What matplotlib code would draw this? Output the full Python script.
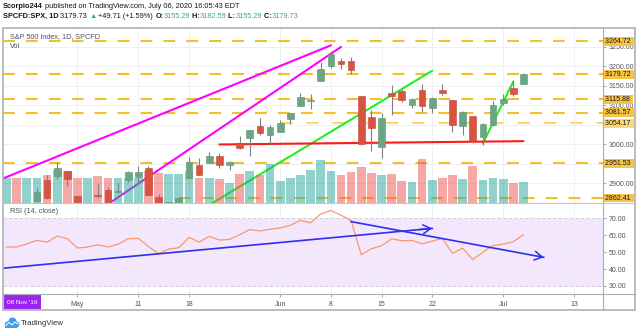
import matplotlib
matplotlib.use("Agg")
import numpy as np
import matplotlib.pyplot as plt
import matplotlib.transforms as mtransforms
from matplotlib.patches import Rectangle, Circle

plt.rcParams["font.family"] = ["Liberation Sans", "DejaVu Sans"]
plt.rcParams["lines.scale_dashes"] = False

# ---- daily S&P 500 CFD bars --------------------------------------------
dates = ["Apr 22", "Apr 23", "Apr 24", "Apr 27", "Apr 28", "Apr 29", "Apr 30",
         "May 1", "May 4", "May 5", "May 6", "May 7", "May 8",
         "May 11", "May 12", "May 13", "May 14", "May 15",
         "May 18", "May 19", "May 20", "May 21", "May 22",
         "May 26", "May 27", "May 28", "May 29",
         "Jun 1", "Jun 2", "Jun 3", "Jun 4", "Jun 5",
         "Jun 8", "Jun 9", "Jun 10", "Jun 11", "Jun 12",
         "Jun 15", "Jun 16", "Jun 17", "Jun 18", "Jun 19",
         "Jun 22", "Jun 23", "Jun 24", "Jun 25", "Jun 26",
         "Jun 29", "Jun 30", "Jul 1", "Jul 2", "Jul 6"]

opens = [2787.89, 2810.42, 2812.64, 2854.65, 2909.96, 2918.46, 2930.91,
         2869.09, 2815.01, 2868.88, 2883.14, 2878.26, 2908.83,
         2915.46, 2939.50, 2865.86, 2794.54, 2829.95,
         2913.86, 2948.59, 2953.63, 2969.95, 2948.05,
         3004.08, 3015.65, 3046.61, 3025.17,
         3031.00, 3064.78, 3098.90, 3111.56, 3163.84,
         3199.92, 3213.32, 3213.42, 3123.53, 3071.04,
         2993.76, 3131.00, 3136.13, 3101.64, 3140.29,
         3094.42, 3138.70, 3114.40, 3046.60, 3073.20,
         3018.59, 3050.20, 3105.92, 3143.64, 3155.29]
highs = [2815.10, 2844.90, 2842.71, 2887.72, 2921.15, 2954.86, 2930.91,
         2869.09, 2844.24, 2898.23, 2891.11, 2901.92, 2932.16,
         2944.25, 2945.82, 2874.14, 2852.80, 2865.01,
         2968.09, 2964.21, 2980.29, 2978.50, 2956.76,
         3021.72, 3036.25, 3068.67, 3049.17,
         3062.18, 3081.07, 3130.94, 3128.91, 3211.72,
         3233.13, 3222.71, 3223.27, 3123.53, 3088.42,
         3079.76, 3153.45, 3141.16, 3120.00, 3155.53,
         3120.92, 3154.90, 3115.01, 3086.25, 3073.73,
         3053.89, 3111.51, 3128.44, 3165.81, 3182.59]
lows = [2775.95, 2794.26, 2791.76, 2852.89, 2860.71, 2912.16, 2892.47,
        2821.61, 2797.85, 2863.55, 2847.65, 2876.48, 2902.88,
        2903.44, 2869.59, 2793.15, 2766.64, 2816.78,
        2913.86, 2922.35, 2953.63, 2938.57, 2933.59,
        2988.17, 2969.75, 3023.40, 2998.61,
        3031.00, 3051.64, 3098.90, 3090.41, 3163.84,
        3196.00, 3193.11, 3181.49, 2999.49, 2984.47,
        2965.66, 3076.06, 3108.03, 3093.51, 3083.11,
        3079.39, 3127.12, 3032.13, 3024.01, 3004.63,
        2999.74, 3047.83, 3101.17, 3124.52, 3155.29]
closes = [2799.31, 2797.80, 2836.74, 2878.48, 2863.39, 2939.51, 2912.43,
          2830.71, 2842.74, 2868.44, 2848.42, 2881.19, 2929.80,
          2930.32, 2870.12, 2820.00, 2852.50, 2863.70,
          2953.91, 2922.94, 2971.61, 2948.51, 2955.45,
          2991.77, 3036.13, 3029.73, 3044.31,
          3055.73, 3080.82, 3122.87, 3112.35, 3193.93,
          3232.39, 3207.18, 3190.14, 3002.10, 3041.31,
          3066.59, 3124.74, 3113.49, 3115.34, 3097.74,
          3117.86, 3131.29, 3050.33, 3083.76, 3009.05,
          3053.24, 3100.29, 3115.86, 3130.01, 3179.72]

# volume, millions of shares
volume_m = [4660, 4650, 4620, 4610, 5260, 6080, 5890,
            4660, 4650, 4940, 4650, 4660, 4560,
            4560, 5990, 5660, 5420, 5420,
            5990, 4660, 4650, 4500, 3610,
            5420, 6020, 5260, 7280,
            4120, 4620, 5260, 6080, 7940,
            6020, 5230, 5810, 6780, 5570,
            5280, 5380, 4120, 3950, 8210,
            4220, 4560, 5260, 4500, 6970,
            4240, 4540, 4410, 3760, 3860]

# RSI (14, close)
rsi = [53.0, 53.0, 54.9, 56.9, 55.9, 59.5, 57.9,
       52.4, 53.0, 54.3, 53.0, 54.7, 57.9,
       58.1, 53.3, 49.0, 51.8, 52.6,
       58.7, 55.9, 59.3, 57.1, 57.5,
       60.3, 63.3, 62.5, 63.5,
       64.3, 65.8, 68.8, 67.3, 72.5,
       74.6, 71.8, 68.6, 48.4, 52.0,
       53.7, 57.9, 56.7, 56.9, 54.9,
       56.5, 58.1, 49.2, 52.4, 45.6,
       50.0, 53.9, 54.7, 56.1, 60.3]

# trading-day calendar used to place drawings
session = ["Apr 21"] + dates + ["Jul 7", "Jul 8", "Jul 9", "Jul 10",
                                "Jul 13", "Jul 14", "Jul 15"]

tick_days = ["May 1", "May 11", "May 18", "Jun 1", "Jun 8", "Jun 15",
             "Jun 22", "Jul 1", "Jul 13"]
tick_labels = ["May", "11", "18", "Jun", "8", "15", "22", "Jul", "13"]

price_ticks = [2900, 2950, 3000, 3050, 3100, 3150, 3200, 3250]
price_tick_labels = ["2900.00", "", "3000.00", "", "3100.00", "3150.00",
                     "3200.00", "3250.00"]
rsi_ticks = [30, 40, 50, 60, 70]

# horizontal levels: value, first day (None = whole chart), faded
levels = [(3264.72, None, False), (3179.72, None, False), (3115.88, None, False),
          (3081.57, None, False), (3054.17, "Jun 1", True),
          (2951.53, None, False), (2862.41, "May 15", False)]

# trend lines: (day, price) anchors
magenta_lines = [[("Apr 21", 2906), ("Jun 8", 3254)],
                 [("May 6", 2847), ("Jun 9", 3250)]]
green_lines = [[("May 20", 2845), ("Jun 22", 3189)],
               [("Jun 29", 3003), ("Jul 2", 3161)]]
red_lines = [[("May 21", 3000), ("Jul 6", 3008.5)]]
rsi_arrows = [[("Apr 21", 40.1), ("Jun 22", 64.0)],
              [("Jun 10", 68.0), ("Jul 8", 46.9)]]


def pos(day):
    return session.index(day) - 1


# ---- colours -----------------------------------------------------------
UP, DOWN = "#6ba583", "#d75442"
UP_EDGE, DOWN_EDGE = "#5a9573", "#c54634"
WICK = "#7d8086"
VOL_UP, VOL_DOWN = (38 / 255, 166 / 255, 154 / 255, 0.5), (239 / 255, 83 / 255, 80 / 255, 0.5)
LEVEL = "#f5bf2a"
LEVEL_FADED = "#fbd77a"
GRID = "#eff0f3"
TXT = "#131722"
AXTXT = "#50535e"
GREEN_TXT = "#3fa58a"

W, H = 640, 332
fig = plt.figure(figsize=(W / 100, H / 100), dpi=100)
fig.patch.set_facecolor("white")

L, R = 3, 603
TOP, MID, BOT = 28.5, 202.5, 294


def frac_rect(x0, y0, x1, y1):
    return [x0 / W, 1 - y1 / H, (x1 - x0) / W, (y1 - y0) / H]


ax = fig.add_axes(frac_rect(L, TOP, R, MID))
axr = fig.add_axes(frac_rect(L, MID, R, BOT), sharex=ax)

xlim = (-0.35, 58.85)
ax.set_xlim(*xlim)
ax.set_ylim(2851.3, 3297.2)
axr.set_ylim(25.25, 79.3)

x = np.arange(len(dates))
o, h, lo, c = map(np.array, (opens, highs, lows, closes))
up = c >= o

for a in (ax, axr):
    for s in a.spines.values():
        s.set_visible(False)
    a.set_facecolor("white")
    a.set_xticks([pos(d) for d in tick_days])
    a.grid(True, color=GRID, lw=0.7, zorder=0)
    a.set_axisbelow(True)
    a.yaxis.tick_right()
    a.tick_params(axis="y", labelsize=5, labelcolor=AXTXT, color="#9598a1",
                  length=2.5, width=0.6, pad=1.5)

ax.tick_params(axis="x", length=0, labelbottom=False)
axr.set_xticklabels(tick_labels)
axr.tick_params(axis="x", labelsize=5, labelcolor=AXTXT, color="#9598a1",
                length=2, width=0.6, pad=3)

ax.set_yticks(price_ticks)
ax.set_yticklabels(price_tick_labels)
axr.set_yticks(rsi_ticks)
axr.set_yticklabels([f"{v:.2f}" for v in rsi_ticks])

# ---- price pane --------------------------------------------------------
for val, start, faded in levels:
    x0 = pos(start) if start else xlim[0]
    ln, = ax.plot([x0, xlim[1]], [val, val], color=LEVEL_FADED if faded else LEVEL,
                  lw=1.5, zorder=1.5, solid_capstyle="butt")
    ln.set_dashes((9, 10) if faded else (8.5, 8))
    ax.annotate(f" {val:.2f} ", xy=(1, val), xycoords=("axes fraction", "data"),
                xytext=(0.3, 0), textcoords="offset points", ha="left", va="center",
                fontsize=5, color=TXT, annotation_clip=False, zorder=10,
                bbox=dict(boxstyle="square,pad=0.12",
                          fc=LEVEL_FADED if faded else "#f6c344", ec="none"))

for group, col in ((magenta_lines, "#ff00ff"), (green_lines, "#22ee22"),
                   (red_lines, "#ff1a1a")):
    for (d0, p0), (d1, p1) in group:
        ax.plot([pos(d0), pos(d1)], [p0, p1], color=col, lw=1.5, zorder=2,
                solid_capstyle="round")

vol_trans = mtransforms.blended_transform_factory(ax.transData, ax.transAxes)
vol_top = max(volume_m) * 4.0
ax.bar(x, np.array(volume_m) / vol_top, width=0.86, bottom=0,
       color=[VOL_UP if u else VOL_DOWN for u in up], transform=vol_trans,
       zorder=3, linewidth=0)

ax.vlines(x, lo, h, color=WICK, lw=0.8, zorder=4)
ax.bar(x, np.maximum(np.abs(c - o), 1.5), bottom=np.minimum(o, c), width=0.66,
       color=[UP if u else DOWN for u in up],
       edgecolor=[UP_EDGE if u else DOWN_EDGE for u in up], linewidth=0.4, zorder=5)

ax.text(0.011, 0.955, "S&P 500 Index, 1D, SPCFD", transform=ax.transAxes,
        fontsize=5.2, color="#4c525e", va="center", ha="left", zorder=11)
ax.text(0.011, 0.895, "Vol", transform=ax.transAxes,
        fontsize=5.2, color="#4c525e", va="center", ha="left", zorder=11)

# ---- RSI pane ----------------------------------------------------------
axr.axhspan(30, 70, color="#f3e6fd", zorder=0.5, lw=0)
for lvl in (30, 70):
    axr.axhline(lvl, color="#c8c8d0", lw=0.6, ls=(0, (2, 2)), zorder=0.6)
axr.plot(x, rsi, color="#f7996d", lw=0.9, zorder=3)
for (d0, v0), (d1, v1) in rsi_arrows:
    x0, x1 = pos(d0), pos(d1)
    axr.plot([x0, x1], [v0, v1], color="#2f2ff0", lw=1.2, zorder=4)
    t = 0.97
    axr.annotate("", xy=(x1, v1), xytext=(x0 + t * (x1 - x0), v0 + t * (v1 - v0)),
                 arrowprops=dict(arrowstyle="->,head_length=0.55,head_width=0.32",
                                 color="#2f2ff0", lw=1.1, shrinkA=0, shrinkB=0,
                                 mutation_scale=10), zorder=4)
axr.text(0.011, 0.9, "RSI (14, close)", transform=axr.transAxes,
         fontsize=5.2, color="#4c525e", va="center", ha="left", zorder=11)

# ---- frame, header and footer -----------------------------------------
ov = fig.add_axes([0, 0, 1, 1], zorder=20)
ov.set_xlim(0, W)
ov.set_ylim(H, 0)
ov.axis("off")
ov.patch.set_visible(False)

ov.add_patch(Rectangle((3, 28), 632, 282, fill=False, ec="#b4b6bd", lw=1.3))
ov.plot([R, R], [28, 310], color="#a9acb4", lw=0.8)
ov.plot([3, 635], [MID, MID], color="#c3c5cb", lw=0.8)
ov.plot([3, 635], [BOT, BOT], color="#a9acb4", lw=0.8)

ov.add_patch(Rectangle((3.5, 295), 37, 14, fc="#9c24f0", ec="none"))
ov.text(22, 302, "08 Nov '16", color="white", fontsize=4.6, ha="center", va="center")


def text_run(x0, y0, parts, size):
    first, kw = parts[0]
    t = ov.text(x0, y0, first, fontsize=size, va="center", ha="left", **kw)
    for s, kw in parts[1:]:
        t = ov.annotate(s, xy=(1, 0), xycoords=t, va="bottom", ha="left",
                        fontsize=size, **kw)


text_run(3, 6.8, [("Scorpio244", dict(color=TXT, fontweight="bold")),
                  (" published on TradingView.com, July 06, 2020 16:05:43 EDT",
                   dict(color=TXT))], 5.3)
text_run(3, 16.6, [("SPCFD:SPX, 1D", dict(color=TXT, fontweight="bold")),
                   (" 3179.73 ", dict(color=TXT)),
                   ("▲", dict(color=GREEN_TXT)),
                   (" +49.71 (+1.59%) ", dict(color=TXT)),
                   ("O:", dict(color=TXT, fontweight="bold")),
                   ("3155.29", dict(color=GREEN_TXT)),
                   (" H:", dict(color=TXT, fontweight="bold")),
                   ("3182.59", dict(color=GREEN_TXT)),
                   (" L:", dict(color=TXT, fontweight="bold")),
                   ("3155.29", dict(color=GREEN_TXT)),
                   (" C:", dict(color=TXT, fontweight="bold")),
                   ("3179.73", dict(color=GREEN_TXT))], 5.3)

# cloud logo
for cx, cy, r in ((8, 324.5, 3.2), (12.5, 321.5, 4.0), (16.5, 324.5, 3.0)):
    ov.add_patch(Circle((cx, cy), r, fc="#3f9ee8", ec="none"))
ov.add_patch(Rectangle((5, 324), 12, 3.6, fc="#3f9ee8", ec="none"))
ov.plot([6, 9, 12, 15, 18], [325.5, 322.5, 325, 322, 324], color="white", lw=0.7)
ov.text(20.5, 323.5, "TradingView", fontsize=5.6, color="#2a2e39", va="center", ha="left")

fig.savefig("out.png", dpi=100)
